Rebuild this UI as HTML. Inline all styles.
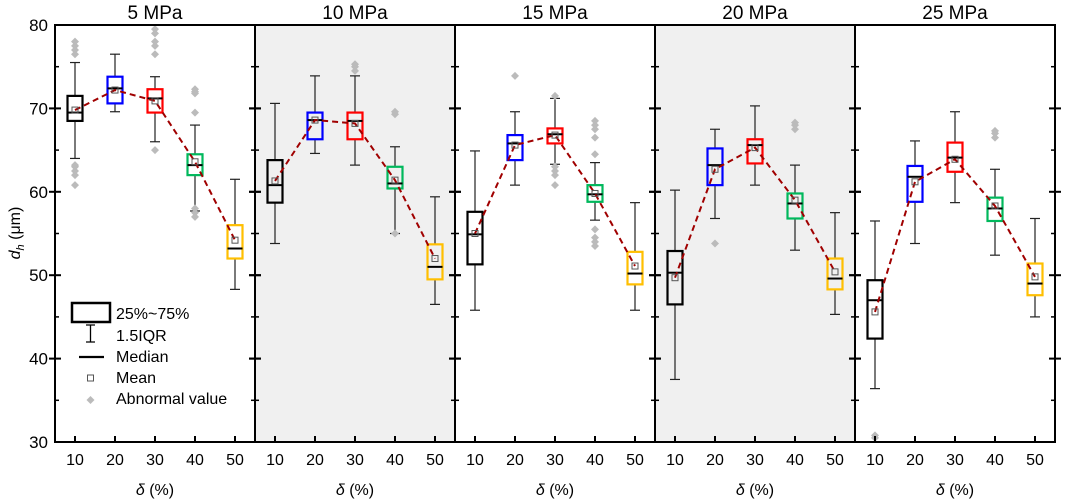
<!DOCTYPE html>
<html><head><meta charset="utf-8"><style>
body{margin:0;background:#fff;}
svg{display:block;font-family:"Liberation Sans",Arial,sans-serif;}
</style></head><body>
<svg id="chart" width="1065" height="503" viewBox="0 0 1065 503" xmlns="http://www.w3.org/2000/svg">
<g id="bg"></g><g id="marks"></g><g id="axes"></g>
<text x="20" y="233" transform="rotate(-90 20 233)" text-anchor="middle" font-size="16"><tspan font-style="italic">d</tspan><tspan font-style="italic" font-size="11" dy="4">h</tspan><tspan dy="-4"> (μm)</tspan></text>
<g>
<rect x="72" y="303" width="38" height="19" fill="none" stroke="#000" stroke-width="2.5"/>
<text x="116" y="319" font-size="16">25%~75%</text>
<path d="M86 325H95M90.5 325V342M86 342H95" stroke="#000" stroke-width="1.3" fill="none"/>
<text x="116" y="341" font-size="16">1.5IQR</text>
<line x1="79" y1="357" x2="104" y2="357" stroke="#000" stroke-width="2.2"/>
<text x="116" y="362" font-size="16">Median</text>
<rect x="87.5" y="375" width="6" height="6" fill="none" stroke="#555" stroke-width="1"/>
<text x="116" y="383" font-size="16">Mean</text>
<path d="M90.5 396L94.5 400L90.5 404L86.5 400Z" fill="#bbb"/>
<text x="116" y="404" font-size="16">Abnormal value</text>
</g>
</svg>
<script>
const panels=["5 MPa","10 MPa","15 MPa","20 MPa","25 MPa"];
const categories=[10,20,30,40,50];
const yTicks=[30,40,50,60,70,80];
const colors=["#000000","#0000ff","#ff0000","#00b85c","#ffbf00"];
// [whiskerLow, q1, median, q3, whiskerHigh, mean] per panel per category
const p5=[[64,68.5,69.5,71.5,75.5,69.8],[69.6,70.6,72.4,73.8,76.5,72.2],[66,69.5,71.2,72.3,73.8,70.9],[57.7,62,63.2,64.5,68,63.6],[48.3,52,53.2,56,61.5,54.2]];
const p10=[[53.8,58.7,60.8,63.8,70.6,61.3],[64.6,66.3,68.6,69.5,73.9,68.6],[63.2,66.3,68.5,69.5,73.9,68.2],[55,60.4,61,63,65.4,61.4],[46.5,49.5,51,53.7,59.4,52]];
const p15=[[45.8,51.3,54.9,57.6,64.9,55],[60.8,63.8,65.8,66.8,69.6,65.6],[63.3,65.8,66.9,67.6,71.2,66.8],[56.6,58.8,59.7,60.8,63.5,59.8],[45.8,48.9,50.2,52.8,58.7,51.1]];
const p20=[[37.5,46.5,50.3,52.9,60.2,49.7],[56.8,60.8,63.2,65.2,67.5,62.7],[60.8,63.4,65.6,66.3,70.3,65.3],[53,56.8,58.6,59.8,63.2,59],[45.3,48.3,49.6,52,57.5,50.4]];
const p25=[[36.4,42.4,47,49.4,56.5,45.6],[53.8,58.8,61.8,63.1,66.1,61.2],[58.7,62.4,64.1,65.9,69.6,63.9],[52.4,56.5,58,59.3,62.7,58.3],[45,47.6,49,51.4,56.8,49.8]];
const outl5=[[60.8,62,62.5,63,63.2,76.5,77,77.5,78],[],[65,76.5,77.5,78,79,79.5],[57,57.5,58,69.5,71.8,72,72.3],[]];
const outl10=[[],[],[74.5,75,75.3],[55,69.3,69.6],[]];
const outl15=[[],[73.9],[60.8,62,62.5,63,71.5],[53.5,54,54.5,55.5,64.5,66.5,67.5,68,68.5],[]];
const outl20=[[],[53.8],[],[67.5,68,68.3],[]];
const outl25=[[30.5,30.8],[],[],[66.5,67,67.3],[]];
const stats=[p5,p10,p15,p20,p25], outliers=[outl5,outl10,outl15,outl20,outl25];

const NS="http://www.w3.org/2000/svg";
const L=55,PW=200,T=25,B=442;
const y=v=>T+(80-v)*(B-T)/50;
const x=(p,c)=>L+PW*p+20+(c-10)*4;
function mk(g,tag,a){const e=document.createElementNS(NS,tag);for(const k in a)e.setAttribute(k,a[k]);document.getElementById(g).appendChild(e);return e;}
panels.forEach((name,p)=>{
  const x0=L+PW*p;
  if(p%2===1){const r=mk('bg','rect',{x:x0,y:T,width:PW,height:B-T,fill:'#f0f0f0'});
  
  }
  const t=mk('axes','text',{x:x0+PW/2,y:19,'text-anchor':'middle','font-size':19});t.textContent=name;
  
  
  const xt=mk('axes','text',{x:x0+PW/2,y:495,'text-anchor':'middle','font-size':16});
  xt.innerHTML='<tspan font-style="italic">δ</tspan> (%)';
  
  
  categories.forEach((c,i)=>{
    const cx=x(p,c);
    mk('axes','line',{x1:cx,y1:B,x2:cx,y2:B-6,stroke:'#000','stroke-width':2});
    const tl=mk('axes','text',{x:cx,y:465,'text-anchor':'middle','font-size':16});tl.textContent=c;
    
    
    const s=stats[p][i],col=colors[i];
    mk('marks','line',{x1:cx,y1:y(s[0]),x2:cx,y2:y(s[4]),stroke:'#222','stroke-width':1.2});
    mk('marks','line',{x1:cx-5,y1:y(s[0]),x2:cx+5,y2:y(s[0]),stroke:'#222','stroke-width':1.2});
    mk('marks','line',{x1:cx-5,y1:y(s[4]),x2:cx+5,y2:y(s[4]),stroke:'#222','stroke-width':1.2});
    const bx=mk('marks','rect',{x:cx-7.5,y:y(s[3]),width:15,height:y(s[1])-y(s[3]),fill:p%2?'#f0f0f0':'#fff',stroke:col,'stroke-width':2.2});
    
    
    mk('marks','line',{x1:cx-7.5,y1:y(s[2]),x2:cx+7.5,y2:y(s[2]),stroke:'#000','stroke-width':2});
    outliers[p][i].forEach(v=>{const d=mk('marks','path',{d:`M${cx} ${y(v)-4}L${cx+4} ${y(v)}L${cx} ${y(v)+4}L${cx-4} ${y(v)}Z`,fill:'#bbb'});
      
      });
  });
  const pts=categories.map((c,i)=>x(p,c)+','+y(stats[p][i][5])).join(' ');
  const pl=mk('marks','polyline',{points:pts,fill:'none',stroke:'#a00000','stroke-width':2,'stroke-dasharray':'6,4'});
  
  
  categories.forEach((c,i)=>{const m=mk('marks','rect',{x:x(p,c)-3,y:y(stats[p][i][5])-3,width:6,height:6,fill:'none',stroke:'#555','stroke-width':1});
    
    });
  for(let v=35;v<80;v+=10){mk('axes','line',{x1:x0,y1:y(v),x2:x0+4,y2:y(v),stroke:'#000','stroke-width':1.5});mk('axes','line',{x1:x0+PW,y1:y(v),x2:x0+PW-4,y2:y(v),stroke:'#000','stroke-width':1.5});}
  yTicks.forEach(v=>{if(v>30&&v<80){mk('axes','line',{x1:x0-6,y1:y(v),x2:x0+6,y2:y(v),stroke:'#000','stroke-width':2});mk('axes','line',{x1:x0+PW-6,y1:y(v),x2:x0+PW+6,y2:y(v),stroke:'#000','stroke-width':2});}});
});
yTicks.forEach(v=>{const t=mk('axes','text',{x:48,y:y(v)+6,'text-anchor':'end','font-size':17});t.textContent=v;
  
  });
mk('axes','rect',{x:L,y:T,width:PW*5,height:B-T,fill:'none',stroke:'#000','stroke-width':2});
for(let p=1;p<5;p++)mk('axes','line',{x1:L+PW*p,y1:T,x2:L+PW*p,y2:B,stroke:'#000','stroke-width':2});
</script>
</body></html>
